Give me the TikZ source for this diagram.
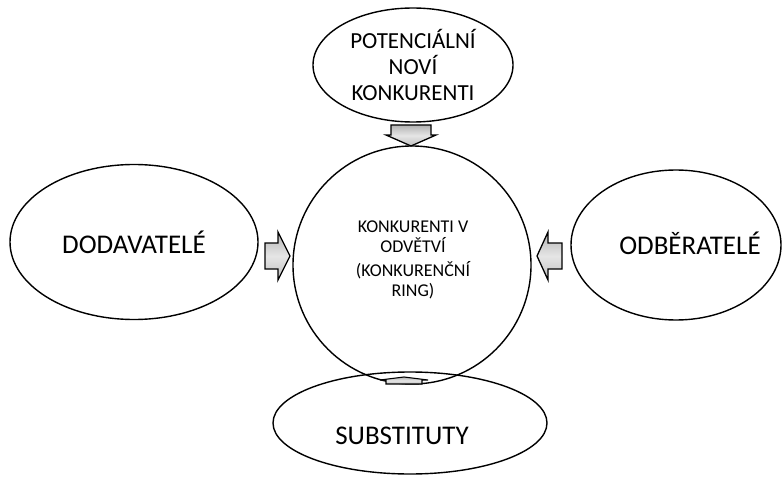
\documentclass[tikz,border=0pt]{standalone}
\usepackage{fontspec}
\setmainfont{Carlito}
\usetikzlibrary{shapes.geometric}

\begin{document}
\begin{tikzpicture}[x=1pt, y=-1pt,
  oval/.style={ellipse, draw, line width=1.4pt, inner sep=0pt, align=center},
  big/.style={font=\fontsize{27}{32}\selectfont},
  push/.style={draw, line width=1.3pt, line join=miter,
    top color=gray!60, bottom color=gray!50, middle color=gray!20}]
\useasboundingbox (0,0) rectangle (784,481);
% five forces
\node[oval, minimum width=200, minimum height=114, font=\fontsize{23}{26}\selectfont] (novi) at (413,65) {POTENCI\'ALN\'I\\NOV\'I\\KONKURENTI};
\node[circle, draw, line width=1.4pt, minimum size=238, inner sep=0pt] (ring) at (412,265) {};
\node[align=center, font=\fontsize{18}{19.5}\selectfont] (ringtext) at (413,260) {KONKURENTI V\\ODV\v{E}TV\'I\\[5pt](KONKUREN\v{C}N\'I\\RING)};
\node[oval, big, minimum width=248, minimum height=155] (dodav) at (134,242) {DODAVATEL\'E};
\node[oval, minimum width=210, minimum height=150] (odber) at (676,245) {};
\node[big] (odbertext) at ([xshift=14pt, yshift=2pt]odber.center) {ODB\v{E}RATEL\'E};
\node[oval, minimum width=274, minimum height=102] (subst) at (410,423) {};
\node[big] (substtext) at ([xshift=-8pt, yshift=-13pt]subst.center) {SUBSTITUTY};
% arrows into the ring
\draw[push] (391,125) -- (431,125) -- (431,135) -- (436,135) -- (411,146) -- (386,135) -- (391,135) -- cycle;
\draw[push] (265,243) -- (278,243) -- (278,232) -- (290,256) -- (278,280) -- (278,269) -- (265,269) -- cycle;
\draw[push] (562,243) -- (548,243) -- (548,232) -- (537,256) -- (548,280) -- (548,269) -- (562,269) -- cycle;
\draw[push, line width=1.1pt] (386,384) -- (386,380) -- (380,380) -- (404,377) -- (428,380) -- (422,380) -- (422,384) -- cycle;
\end{tikzpicture}
\end{document}
